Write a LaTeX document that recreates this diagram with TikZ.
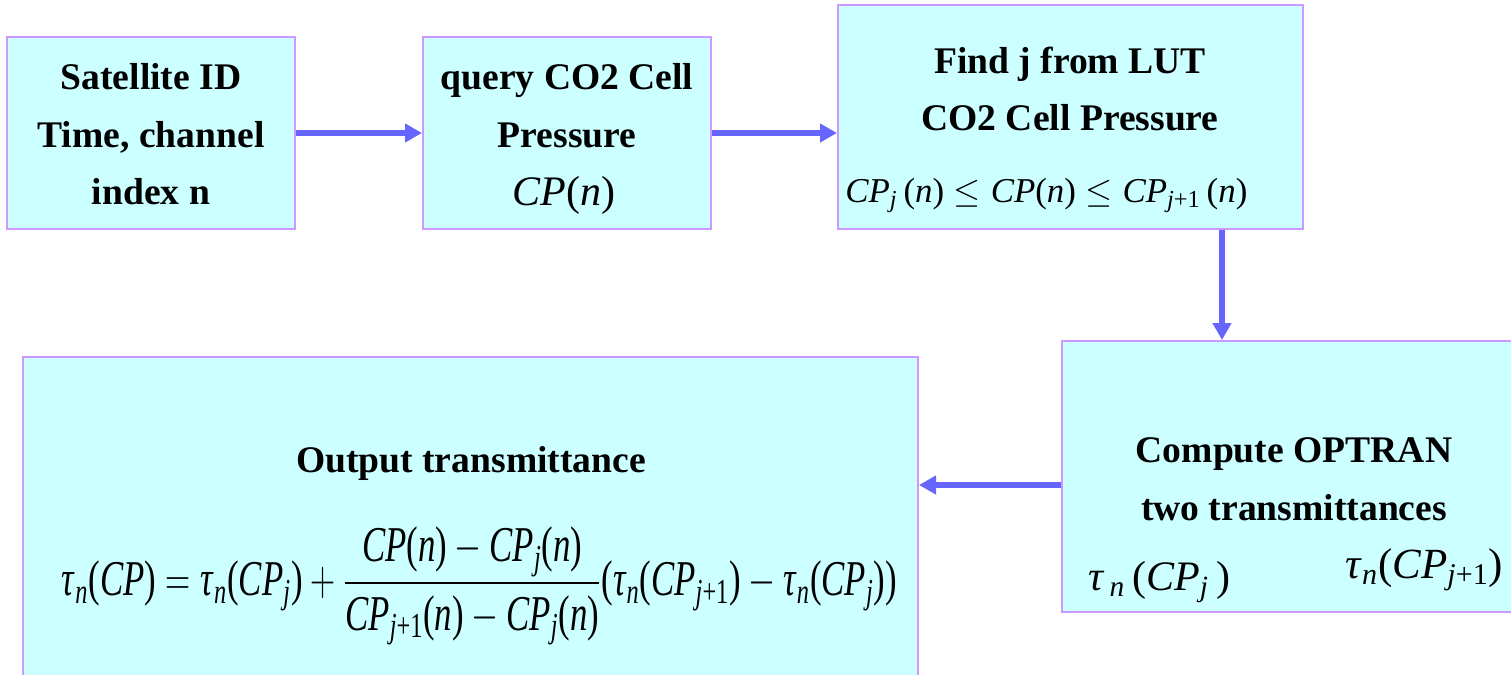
\RequirePackage{fix-cm}
\documentclass[tikz,border=0pt]{standalone}
\usepackage{fontspec}
\setmainfont{Liberation Serif}
\usepackage{amsmath}
\usepackage{graphicx}
\usetikzlibrary{arrows.meta}
\definecolor{boxfill}{HTML}{CCFFFF}
\definecolor{boxline}{HTML}{CC99FF}
\definecolor{arr}{HTML}{6666FF}
\newcommand\iv[1]{\text{\textit{#1}}}
\newcommand\pa[1]{\text{(}#1\text{)}}
\tikzset{
 box/.style={draw=boxline, fill=boxfill, line width=1pt, inner sep=0pt},
 lbl/.style={font=\fontsize{18.8}{28}\selectfont\bfseries, inner sep=0pt, anchor=base},
 eq/.style={inner sep=0pt, anchor=base},
 flow/.style={draw=arr, line width=3pt, -{Triangle[length=8.5pt,width=9pt]}},
}
\begin{document}
\begin{tikzpicture}[x=0.5pt,y=-0.5pt]
\useasboundingbox (0,0) rectangle (1511,675);
\clip (0,0) rectangle (1511,675);
% boxes
\node[box, minimum width=144pt, minimum height=96pt] (b1) at (151,133) {};
\node[box, minimum width=144pt, minimum height=96pt] (b2) at (567,133) {};
\node[box, minimum width=232.5pt, minimum height=112pt] (b3) at (1070.5,117) {};
\node[box, minimum width=229pt, minimum height=135.5pt] (b4) at (1291,476.5) {};
\node[box, minimum width=447.5pt, minimum height=166.5pt] (b5) at (470.5,523.5) {};
% box 1 text
\node[lbl] (t11) at (151,89) {Satellite ID};
\node[lbl] (t12) at (151,147) {Time, channel};
\node[lbl] (t13) at (151,204) {index n};
% box 2 text
\node[lbl] (t21) at (567,89) {query CO2 Cell};
\node[lbl] (t22) at (567,147) {Pressure};
\node[eq, font=\fontsize{21}{25}\selectfont] (t23) at (564,205) {$\iv{CP}\pa{\iv{n}}$};
% box 3 text
\node[lbl] (t31) at (1070,73) {Find j from LUT};
\node[lbl] (t32) at (1070,130) {CO2 Cell Pressure};
\node[eq, anchor=base west, font=\fontsize{16.5}{20}\selectfont] (t33) at (845,202)
 {\resizebox{201pt}{!}{$\iv{CP}_{\iv{j}}\,\pa{\iv{n}} \le \iv{CP}\pa{\iv{n}} \le \iv{CP}_{\iv{j}\text{+1}}\,\pa{\iv{n}}$}};
% box 4 text
\node[lbl] (t41) at (1294,462) {Compute OPTRAN};
\node[lbl] (t42) at (1294,520) {two transmittances};
\node[eq, anchor=base west, font=\fontsize{21}{25}\selectfont] (t43) at (1088,590)
 {$\iv{τ}_{\,\iv{n}}\,\pa{\iv{CP}_{\iv{j}}\,}$};
\node[eq, anchor=base west, font=\fontsize{21.5}{25}\selectfont] (t44) at (1345,578)
 {$\iv{τ}_{\iv{n}}\pa{\iv{CP}_{\iv{j}\text{+1}}}$};
% box 5 text
\node[lbl] (t51) at (471,472) {Output transmittance};
\node[inner sep=0pt, font=\fontsize{19}{23}\selectfont] (t52) at (479.5,586)
 {\resizebox*{417.5pt}{59pt}{$\displaystyle \iv{τ}_{\iv{n}}\pa{\iv{CP}} = \iv{τ}_{\iv{n}}\pa{\iv{CP}_{\iv{j}}} + \frac{\iv{CP}\pa{\iv{n}} - \iv{CP}_{\iv{j}}\pa{\iv{n}}}{\iv{CP}_{\iv{j}\text{+1}}\pa{\iv{n}} - \iv{CP}_{\iv{j}}\pa{\iv{n}}}\pa{\iv{τ}_{\iv{n}}\pa{\iv{CP}_{\iv{j}\text{+1}}} - \iv{τ}_{\iv{n}}\pa{\iv{CP}_{\iv{j}}}}$}};
% connectors
\coordinate (dx) at (1222,0);
\coordinate (ly) at (0,485);
\draw[flow] (b1.east) -- (b2.west);
\draw[flow] (b2.east) -- (b2.east -| b3.west);
\draw[flow] (b3.south -| dx) -- (b4.north -| dx);
\draw[flow] (b4.west |- ly) -- (b5.east |- ly);
\end{tikzpicture}
\end{document}
